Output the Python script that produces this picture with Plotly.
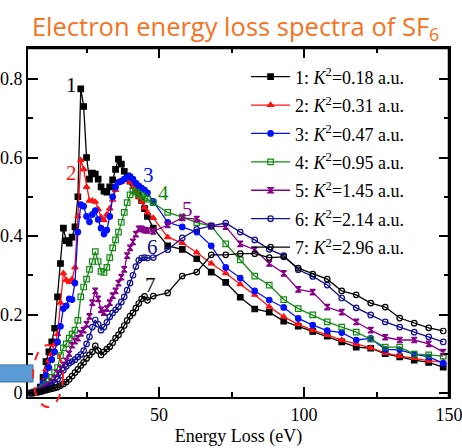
import plotly.graph_objects as go

energy = list(range(6, 47)) + list(range(48, 149, 5))

k2_labels = ["1: <i>K</i><sup>2</sup>=0.18 a.u.", "2: <i>K</i><sup>2</sup>=0.31 a.u.",
             "3: <i>K</i><sup>2</sup>=0.47 a.u.", "4: <i>K</i><sup>2</sup>=0.95 a.u.",
             "5: <i>K</i><sup>2</sup>=1.45 a.u.", "6: <i>K</i><sup>2</sup>=2.14 a.u.",
             "7: <i>K</i><sup>2</sup>=2.96 a.u."]

s1 = [0.000, 0.002, 0.005, 0.015, 0.040, 0.080, 0.105, 0.130, 0.165, 0.245,
      0.330, 0.420, 0.388, 0.382, 0.397, 0.423, 0.500, 0.775, 0.730, 0.600,
      0.545, 0.560, 0.558, 0.545, 0.525, 0.514, 0.512, 0.525, 0.543, 0.570,
      0.596, 0.583, 0.565, 0.553, 0.540, 0.535, 0.520, 0.505, 0.490, 0.470,
      0.450,
      0.420, 0.375, 0.366, 0.342, 0.308, 0.282, 0.244, 0.214, 0.206, 0.183,
      0.170, 0.157, 0.145, 0.130, 0.117, 0.114, 0.100, 0.092, 0.084, 0.078, 0.066]

s2 = [0.000, 0.002, 0.005, 0.012, 0.030, 0.060, 0.082, 0.100, 0.125, 0.150,
      0.230, 0.305, 0.288, 0.283, 0.290, 0.320, 0.450, 0.593, 0.570, 0.525,
      0.490, 0.490, 0.487, 0.468, 0.448, 0.440, 0.455, 0.470, 0.492, 0.517,
      0.535, 0.538, 0.543, 0.546, 0.538, 0.525, 0.512, 0.498, 0.487, 0.472,
      0.460,
      0.446, 0.397, 0.382, 0.358, 0.330, 0.305, 0.277, 0.250, 0.220, 0.194,
      0.175, 0.160, 0.148, 0.135, 0.125, 0.115, 0.102, 0.094, 0.089, 0.082, 0.079]

s3 = [0.000, 0.002, 0.005, 0.012, 0.025, 0.045, 0.065, 0.085, 0.105, 0.130,
      0.170, 0.215, 0.222, 0.240, 0.238, 0.280, 0.410, 0.480, 0.476, 0.450,
      0.436, 0.455, 0.465, 0.442, 0.420, 0.405, 0.415, 0.450, 0.500, 0.525,
      0.537, 0.540, 0.545, 0.550, 0.552, 0.545, 0.535, 0.528, 0.522, 0.517,
      0.510,
      0.488, 0.435, 0.423, 0.410, 0.375, 0.320, 0.293, 0.260, 0.237, 0.218,
      0.190, 0.173, 0.159, 0.154, 0.135, 0.139, 0.111, 0.110, 0.099, 0.092, 0.076]

s4 = [0.000, 0.002, 0.005, 0.008, 0.015, 0.022, 0.030, 0.040, 0.052, 0.065,
      0.095, 0.115, 0.125, 0.140, 0.150, 0.160, 0.185, 0.245, 0.270, 0.290,
      0.315, 0.335, 0.360, 0.335, 0.310, 0.307, 0.320, 0.345, 0.370, 0.390,
      0.410, 0.435, 0.460, 0.485, 0.505, 0.515, 0.512, 0.507, 0.503, 0.498,
      0.494,
      0.485, 0.460, 0.448, 0.434, 0.425, 0.380, 0.339, 0.298, 0.275, 0.238,
      0.215, 0.199, 0.181, 0.168, 0.155, 0.137, 0.117, 0.117, 0.099, 0.097, 0.094]

s5 = [0.000, 0.001, 0.003, 0.006, 0.010, 0.015, 0.020, 0.028, 0.037, 0.050,
      0.062, 0.072, 0.082, 0.100, 0.122, 0.132, 0.140, 0.152, 0.160, 0.175,
      0.195, 0.230, 0.260, 0.240, 0.212, 0.205, 0.215, 0.230, 0.248, 0.260,
      0.280, 0.295, 0.315, 0.350, 0.370, 0.385, 0.405, 0.418, 0.418, 0.415,
      0.414,
      0.412, 0.428, 0.446, 0.443, 0.425, 0.424, 0.380, 0.365, 0.330, 0.305,
      0.264, 0.257, 0.219, 0.206, 0.181, 0.160, 0.142, 0.135, 0.135, 0.125, 0.104]

s6 = [0.000, 0.001, 0.002, 0.004, 0.007, 0.010, 0.014, 0.020, 0.026, 0.035,
      0.045, 0.058, 0.068, 0.076, 0.080, 0.085, 0.092, 0.098, 0.108, 0.125,
      0.143, 0.168, 0.186, 0.175, 0.160, 0.168, 0.180, 0.194, 0.204, 0.212,
      0.220, 0.232, 0.245, 0.262, 0.280, 0.300, 0.322, 0.338, 0.344, 0.345,
      0.344,
      0.345, 0.365, 0.395, 0.417, 0.426, 0.433, 0.410, 0.390, 0.366, 0.350,
      0.314, 0.297, 0.275, 0.242, 0.217, 0.199, 0.181, 0.168, 0.155, 0.143, 0.130]

s7 = [0.000, 0.001, 0.002, 0.003, 0.005, 0.007, 0.009, 0.011, 0.013, 0.015,
      0.019, 0.023, 0.028, 0.035, 0.043, 0.052, 0.060, 0.070, 0.078, 0.088,
      0.097, 0.105, 0.120, 0.108, 0.097, 0.105, 0.112, 0.118, 0.128, 0.140,
      0.148, 0.160, 0.172, 0.185, 0.196, 0.204, 0.216, 0.228, 0.240, 0.246,
      0.236,
      0.247, 0.255, 0.298, 0.308, 0.352, 0.352, 0.355, 0.355, 0.345, 0.347,
      0.318, 0.303, 0.290, 0.260, 0.250, 0.229, 0.219, 0.191, 0.178, 0.166, 0.158]

series = [s1, s2, s3, s4, s5, s6, s7]
colors = ["#000000", "#FF1010", "#0010FF", "#128A12", "#880088", "#101090", "#000000"]
symbols = ["square", "triangle-up", "circle", "square-open", "hourglass",
           "circle-open", "circle-open"]

curve_tags = ["1", "2", "3", "4", "5", "6", "7"]
tag_x = [19.9, 19.8, 46.2, 51.7, 59.7, 47.6, 47.2]
tag_y = [0.785, 0.56, 0.555, 0.51, 0.47, 0.372, 0.275]

fig = go.Figure()
for i, (vals, col, sym, lab) in enumerate(zip(series, colors, symbols, k2_labels)):
    fig.add_trace(go.Scatter(
        x=energy, y=vals, mode="lines+markers", name=lab, legendgroup=f"g{i}",
        line=dict(color=col, width=1.3),
        marker=dict(symbol=sym, size=5.5, color=col, line=dict(color=col, width=1.2)),
    ))

for t, tx, ty, col in zip(curve_tags, tag_x, tag_y, colors):
    fig.add_annotation(x=tx, y=ty, text=t, showarrow=False,
                       font=dict(family="Liberation Serif", size=21, color=col))

# plot frame (top and right sides drawn explicitly)
fig.add_shape(type="line", xref="paper", yref="paper", x0=0, x1=1, y0=1, y1=1,
              line=dict(color="black", width=2.5), layer="above")
fig.add_shape(type="line", xref="paper", yref="paper", x0=1, x1=1, y0=0, y1=1,
              line=dict(color="black", width=2.5), layer="above")
# left blue block and red dashed ellipse
fig.add_shape(type="rect", xref="paper", yref="paper",
              x0=-0.07, x1=0.012, y0=0.043, y1=0.092,
              fillcolor="#5B9BD5", line=dict(color="#41719C", width=1), layer="above")
fig.add_shape(type="circle", xref="paper", yref="paper",
              x0=0.012, x1=0.083, y0=-0.029, y1=0.149,
              line=dict(color="#FF2020", width=2, dash="dash"), layer="above")

axis_common = dict(showline=True, linecolor="black", linewidth=2, mirror="allticks",
                   ticks="inside", ticklen=10, tickwidth=1.5, tickcolor="black",
                   showgrid=False, zeroline=False, automargin=False,
                   ticklabeloverflow="allow",
                   tickfont=dict(family="Liberation Serif", size=18, color="black"))

fig.update_xaxes(range=[4.8, 150], tickvals=[50, 100, 150],
                 minor=dict(ticks="inside", ticklen=5, tickwidth=1.5, tickcolor="black",
                            tickvals=[25, 75, 125]),
                 title=dict(text="Energy Loss (eV)", standoff=6,
                            font=dict(family="Liberation Serif", size=18, color="black")),
                 **axis_common)
fig.update_yaxes(range=[-0.0102, 0.879], tickvals=[0, 0.2, 0.4, 0.6, 0.8],
                 ticktext=["0", "0.2", "0.4", "0.6", "0.8"],
                 minor=dict(ticks="inside", ticklen=5, tickwidth=1.5, tickcolor="black",
                            tickvals=[0.1, 0.3, 0.5, 0.7]),
                 **axis_common)

fig.update_layout(
    width=462, height=448,
    margin=dict(l=28, r=13, t=48, b=51),
    plot_bgcolor="white", paper_bgcolor="white",
    title=dict(text="Electron energy loss spectra of SF<sub>6</sub>",
               x=0.51, xanchor="center", y=0.94, yanchor="middle",
               font=dict(family="Open Sans", size=25.5, color="#F6721E")),
    legend=dict(x=0.518, y=0.97, xanchor="left", yanchor="top",
                bgcolor="rgba(0,0,0,0)", borderwidth=0, itemwidth=39,
                tracegroupgap=2,
                font=dict(family="Liberation Serif", size=18, color="black")),
    showlegend=True,
)

fig.write_html("out.html", config={"displayModeBar": False},
               post_script="document.body.style.margin='0px';document.body.style.overflow='hidden';")
